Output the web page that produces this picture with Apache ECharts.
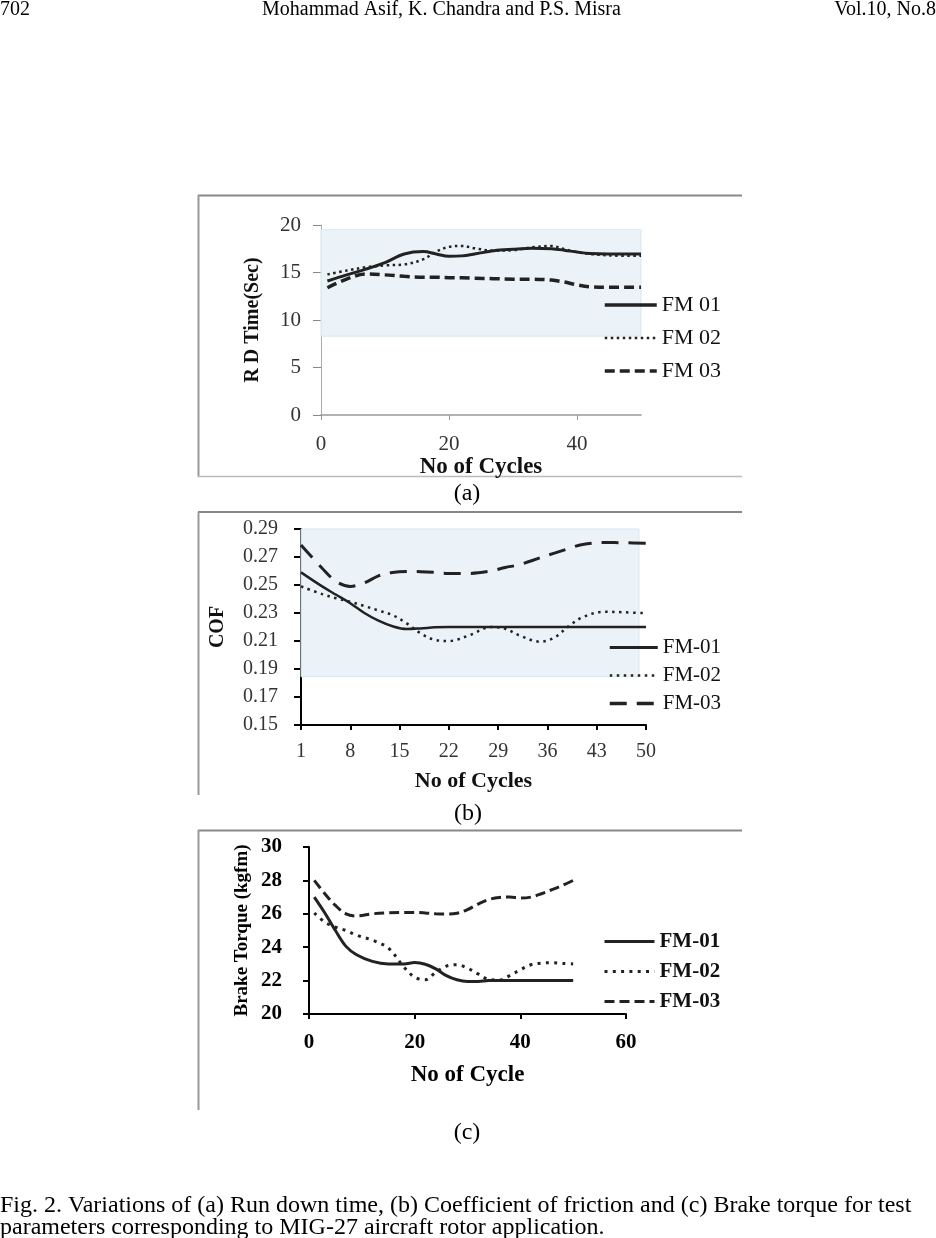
<!DOCTYPE html>
<html>
<head>
<meta charset="utf-8">
<script src="https://cdn.jsdelivr.net/npm/echarts@6/dist/echarts.min.js"></script>
<style>
html, body { margin: 0; padding: 0; background: #fff; }
#page { position: relative; width: 936px; height: 1238px; }
.part { position: absolute; left: 0; width: 936px; }
</style>
</head>
<body>
<div id="page">
  <div id="chartA" class="part" style="top:0;height:512px"></div>
  <div id="chartB" class="part" style="top:502px;height:328px"></div>
  <div id="chartC" class="part" style="top:822px;height:416px"></div>
</div>
<script>
// (a) run down time
const rdCycles = [1, 4, 7, 10, 13, 16, 18, 20, 22, 24, 27, 30, 33, 36, 38, 40, 42, 45, 50];
const rdFM01 = [14.1, 14.75, 15.35, 16.05, 16.95, 17.2, 16.95, 16.7, 16.75, 16.95, 17.3, 17.45, 17.55, 17.5, 17.35, 17.15, 17.0, 16.95, 16.95];
const rdFM02 = [14.8, 15.2, 15.55, 15.75, 15.85, 16.4, 17.2, 17.7, 17.8, 17.55, 17.3, 17.35, 17.65, 17.8, 17.45, 17.15, 16.95, 16.8, 16.75];
const rdFM03 = [13.4, 14.3, 14.85, 14.75, 14.6, 14.5, 14.5, 14.45, 14.45, 14.4, 14.35, 14.3, 14.3, 14.2, 14.0, 13.7, 13.5, 13.45, 13.45];
const rdXTicks = [0, 20, 40];

// (b) coefficient of friction
const cofCategories = Array.from({ length: 50 }, (_, i) => String(i + 1));
const cofCycles = ['1', '4', '6', '8', '10', '12', '14', '16', '18', '20', '22', '25', '28', '30', '32', '35', '37', '39', '41', '44', '47', '50'];
const cofFM01 = [0.259, 0.249, 0.243, 0.237, 0.230, 0.2245, 0.2205, 0.2185, 0.219, 0.2198, 0.22, 0.22, 0.22, 0.22, 0.22, 0.22, 0.22, 0.22, 0.22, 0.22, 0.22, 0.22];
const cofFM02 = [0.249, 0.2435, 0.2405, 0.238, 0.235, 0.2318, 0.2285, 0.2226, 0.2155, 0.2108, 0.21, 0.2143, 0.22, 0.2188, 0.214, 0.2095, 0.2125, 0.2205, 0.227, 0.2309, 0.2305, 0.2298];
const cofFM03 = [0.2786, 0.262, 0.2525, 0.249, 0.2515, 0.2565, 0.259, 0.2597, 0.2595, 0.259, 0.2583, 0.2583, 0.26, 0.2625, 0.2645, 0.2695, 0.2728, 0.276, 0.279, 0.2803, 0.2802, 0.2798];
const cofYTicks = [0.15, 0.17, 0.19, 0.21, 0.23, 0.25, 0.27, 0.29];

// (c) brake torque
const btCycles = [1, 3, 5, 7, 9, 12, 15, 18, 20, 22, 24, 26, 28, 30, 32, 34, 36, 38, 40, 42, 44, 46, 48, 50];
const btFM01 = [27.0, 26.05, 25.0, 24.05, 23.55, 23.15, 23.0, 23.0, 23.08, 22.98, 22.7, 22.3, 22.05, 21.95, 21.95, 22.0, 22.0, 22.0, 22.0, 22.0, 22.0, 22.0, 22.0, 22.0];
const btFM02 = [26.05, 25.5, 25.2, 25.0, 24.72, 24.42, 23.95, 22.8, 22.2, 22.05, 22.5, 22.87, 22.95, 22.75, 22.4, 22.07, 22.03, 22.3, 22.65, 22.95, 23.05, 23.07, 23.03, 23.0];
const btFM03 = [28.0, 27.2, 26.5, 26.0, 25.87, 26.0, 26.06, 26.08, 26.08, 26.05, 26.0, 25.98, 26.03, 26.25, 26.58, 26.85, 26.98, 27.0, 26.94, 27.0, 27.2, 27.45, 27.7, 28.0];

const SERIF = '"Liberation Serif", "Times New Roman", serif';
const INK = '#222';

const zip = (xs, ys) => xs.map((x, i) => [x, ys[i]]);

function line(name, data, width, dash, extra) {
    return Object.assign({
        type: 'line',
        name: name,
        data: data,
        smooth: 0.35,
        symbol: 'none',
        showSymbol: false,
        color: INK,
        lineStyle: { color: INK, width: width, type: dash, cap: 'butt' },
        emphasis: { disabled: true },
        animation: false
    }, extra || {});
}

function text(str, x, y, size, opts) {
    const o = opts || {};
    return {
        type: 'text', silent: true,
        style: {
            x: x, y: y, text: str,
            font: (o.bold ? 'bold ' : '') + size + 'px ' + SERIF,
            fill: o.color || '#000',
            align: o.align || 'left', textAlign: o.align || 'left',
            verticalAlign: 'middle', textVerticalAlign: 'middle'
        }
    };
}

function rule(x1, y1, x2, y2, color, w) {
    return { type: 'line', silent: true, shape: { x1: x1, y1: y1, x2: x2, y2: y2 }, style: { stroke: color, lineWidth: w } };
}

// names / widths / dashes go in parallel, one legend per panel
function legend(names, widths, dashes, left, top, gap, width, size, bold) {
    return {
        orient: 'vertical', left: left, top: top, padding: 0,
        itemWidth: width, itemHeight: 14, itemGap: gap,
        selectedMode: false,
        data: names.map((n, i) => ({ name: n, lineStyle: { width: widths[i], type: dashes[i], color: INK } })),
        itemStyle: { opacity: 0 },
        textStyle: { fontFamily: SERIF, fontSize: size, color: '#111', fontWeight: bold ? 'bold' : 'normal' }
    };
}

const shade = (from, to) => ({
    silent: true,
    itemStyle: { color: 'rgba(233,242,247,0.9)', borderColor: '#d6e7ef', borderWidth: 1 },
    data: [[from, to]]
});

const rdDash = ['solid', [2.5, 3.5], [10, 5]];
const cofDash = ['solid', [2.5, 4.5], [17, 10]];
const btDash = ['solid', [3, 5.3], [10, 5]];

// ---------- (a)
const chartA = echarts.init(document.getElementById('chartA'));
chartA.setOption({
    animation: false,
    grid: { left: 321, top: 225, width: 320, height: 190 },
    xAxis: {
        type: 'value', min: 0, max: 50,
        axisLine: { lineStyle: { color: '#999', width: 1.5 } },
        axisTick: { show: true, length: 5, customValues: rdXTicks, lineStyle: { color: '#999' } },
        axisLabel: { customValues: rdXTicks, margin: 19, fontFamily: SERIF, fontSize: 21, color: '#333' },
        splitLine: { show: false },
        name: 'No of Cycles', nameLocation: 'middle', nameGap: 37,
        nameTextStyle: { fontFamily: SERIF, fontSize: 23, fontWeight: 'bold', color: '#111' }
    },
    yAxis: {
        type: 'value', min: 0, max: 20, interval: 5,
        axisLine: { show: true, lineStyle: { color: '#aaa', width: 1 } },
        axisTick: { show: true, length: 8, lineStyle: { color: '#888' } },
        axisLabel: { margin: 20, fontFamily: SERIF, fontSize: 21, color: '#333' },
        splitLine: { show: false },
        name: 'R D Time(Sec)', nameLocation: 'middle', nameGap: 58,
        nameTextStyle: { fontFamily: SERIF, fontSize: 20, fontWeight: 'bold', color: '#111' }
    },
    legend: legend(['FM 01', 'FM 02', 'FM 03'], [3.5, 2.5, 3.5], rdDash, 603, 294, 11, 52, 22, false),
    series: [
        line('FM 01', zip(rdCycles, rdFM01), 3, rdDash[0], { markArea: shade({ xAxis: -1, yAxis: 19.5 }, { xAxis: 50, yAxis: 8.3 }) }),
        line('FM 02', zip(rdCycles, rdFM02), 2.5, rdDash[1]),
        line('FM 03', zip(rdCycles, rdFM03), 3.5, rdDash[2])
    ],
    graphic: [
        text('702', 0, 9.5, 20),
        text('Mohammad Asif, K. Chandra and P.S. Misra', 262, 9.5, 20),
        text('Vol.10, No.8', 936, 9.5, 20, { align: 'right' }),
        rule(198, 195.5, 742, 195.5, '#888', 2),
        rule(198.5, 195, 198.5, 477, '#999', 2),
        rule(198, 476.5, 742, 476.5, '#bbb', 1.5),
        text('(a)', 467, 494, 24, { align: 'center' })
    ]
});

// ---------- (b)
const chartB = echarts.init(document.getElementById('chartB'));
chartB.setOption({
    animation: false,
    grid: { left: 301, top: 27, width: 345, height: 196 },
    xAxis: {
        type: 'category', data: cofCategories, boundaryGap: false,
        axisLine: { lineStyle: { color: '#000', width: 2 } },
        axisTick: { show: true, interval: 6, length: 5, lineStyle: { color: '#000', width: 2 } },
        axisLabel: { interval: 6, margin: 17, fontFamily: SERIF, fontSize: 20, color: '#333' },
        splitLine: { show: false },
        name: 'No of Cycles', nameLocation: 'middle', nameGap: 45,
        nameTextStyle: { fontFamily: SERIF, fontSize: 22, fontWeight: 'bold', color: '#111' }
    },
    yAxis: {
        type: 'value', min: 0.15, max: 0.29,
        axisLine: { show: true, lineStyle: { color: '#000', width: 2 } },
        axisTick: { show: true, length: 7, customValues: cofYTicks, lineStyle: { color: '#000', width: 2 } },
        axisLabel: { customValues: cofYTicks, margin: 23, fontFamily: SERIF, fontSize: 20, color: '#333', formatter: v => v.toFixed(2) },
        splitLine: { show: false },
        name: 'COF', nameLocation: 'middle', nameGap: 73,
        nameTextStyle: { fontFamily: SERIF, fontSize: 20, fontWeight: 'bold', color: '#111' }
    },
    legend: legend(['FM-01', 'FM-02', 'FM-03'], [3, 2.5, 3.5], cofDash, 608, 135, 7, 48, 21, false),
    series: [
        line('FM-01', zip(cofCycles, cofFM01), 2.5, cofDash[0], { markArea: shade({ xAxis: '1', yAxis: 0.29 }, { xAxis: '49', yAxis: 0.1845 }) }),
        line('FM-02', zip(cofCycles, cofFM02), 2.5, cofDash[1]),
        line('FM-03', zip(cofCycles, cofFM03), 3, cofDash[2])
    ],
    graphic: [
        rule(198, 10, 742, 10, '#888', 2),
        rule(198.5, 10, 198.5, 293, '#999', 2),
        text('(b)', 468, 312, 24, { align: 'center' })
    ]
});

// ---------- (c)
const chartC = echarts.init(document.getElementById('chartC'));
chartC.setOption({
    animation: false,
    grid: { left: 309, top: 25, width: 317, height: 167 },
    xAxis: {
        type: 'value', min: 0, max: 60, interval: 20,
        axisLine: { lineStyle: { color: '#000', width: 2 } },
        axisTick: { show: true, length: 5, lineStyle: { color: '#000', width: 2 } },
        axisLabel: { margin: 18, fontFamily: SERIF, fontSize: 21, fontWeight: 'bold', color: '#000' },
        splitLine: { show: false },
        name: 'No of Cycle', nameLocation: 'middle', nameGap: 50,
        nameTextStyle: { fontFamily: SERIF, fontSize: 23, fontWeight: 'bold', color: '#000' }
    },
    yAxis: {
        type: 'value', min: 20, max: 30, interval: 2,
        axisLine: { show: true, lineStyle: { color: '#000', width: 2 } },
        axisTick: { show: true, length: 6, lineStyle: { color: '#000', width: 2 } },
        axisLabel: { margin: 27, fontFamily: SERIF, fontSize: 21, fontWeight: 'bold', color: '#000' },
        splitLine: { show: false },
        name: 'Brake Torque (kgfm)', nameLocation: 'middle', nameGap: 57,
        nameTextStyle: { fontFamily: SERIF, fontSize: 19, fontWeight: 'bold', color: '#000' }
    },
    legend: legend(['FM-01', 'FM-02', 'FM-03'], [3, 3, 3], btDash, 603, 109, 9, 50, 21, true),
    series: [
        line('FM-01', zip(btCycles, btFM01), 3, btDash[0]),
        line('FM-02', zip(btCycles, btFM02), 3, btDash[1]),
        line('FM-03', zip(btCycles, btFM03), 3, btDash[2])
    ],
    graphic: [
        rule(198, 8.5, 742, 8.5, '#888', 2),
        rule(198.5, 8, 198.5, 288, '#999', 2),
        text('(c)', 467, 311, 24, { align: 'center' }),
        text('Fig. 2. Variations of (a) Run down time, (b) Coefficient of friction and (c) Brake torque for test', 0, 384, 24),
        text('parameters corresponding to MIG-27 aircraft rotor application.', 0, 406, 24)
    ]
});
</script>
</body>
</html>
